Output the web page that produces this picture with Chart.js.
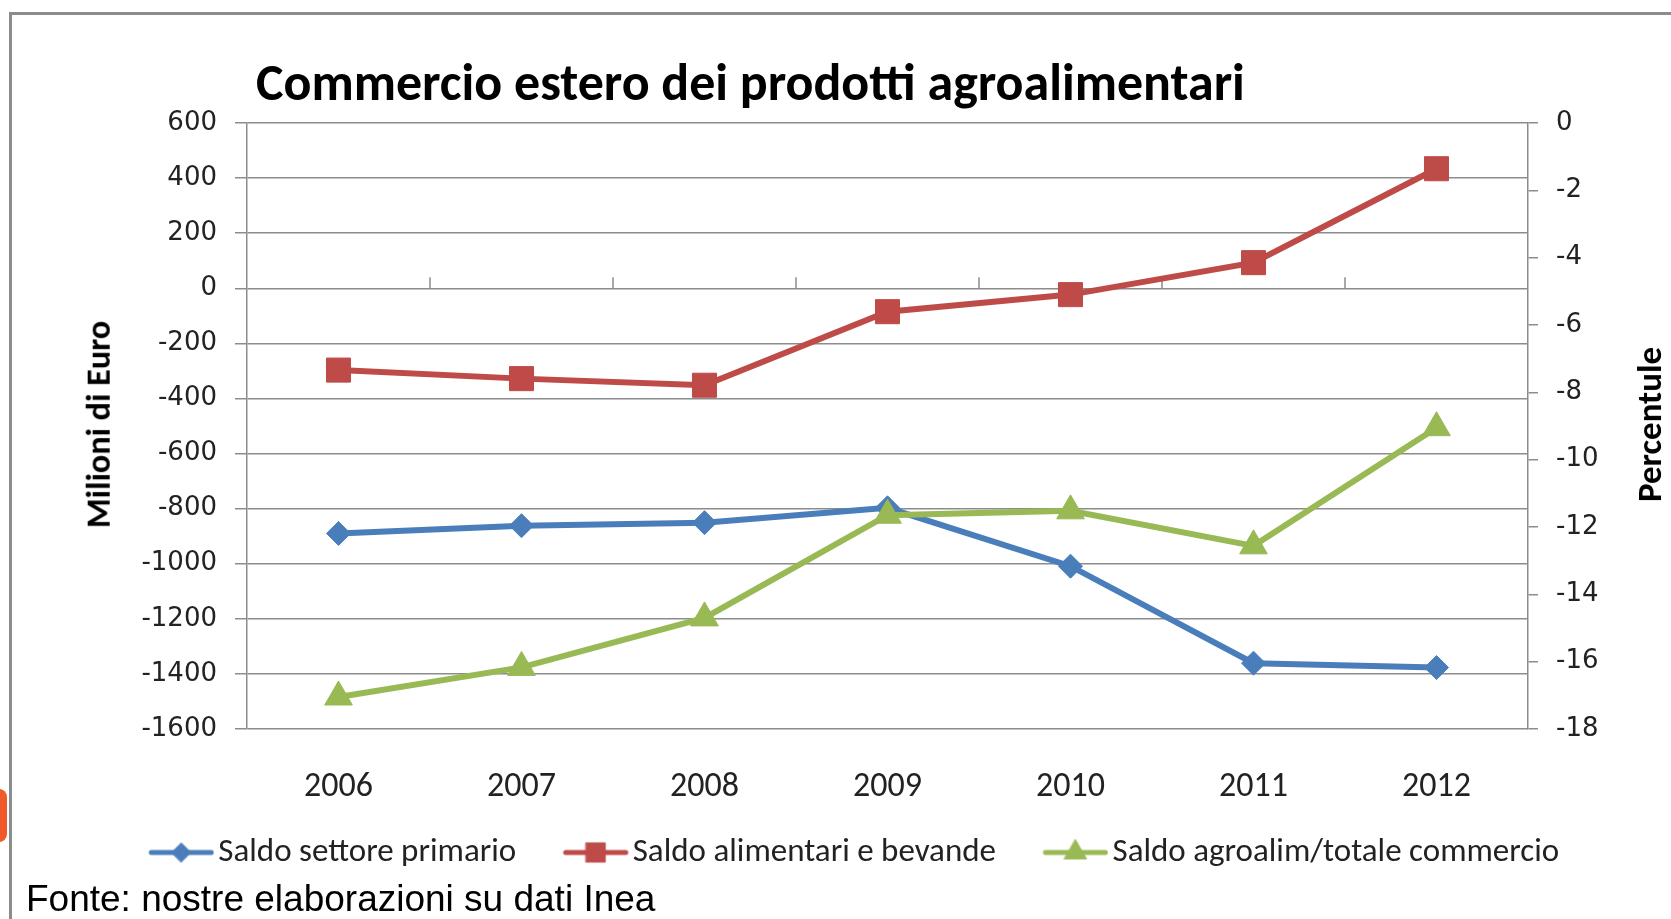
<!DOCTYPE html>
<html>
<head>
<meta charset="utf-8">
<script src="https://cdn.jsdelivr.net/npm/chart.js@4.4.1/dist/chart.umd.min.js"></script>
<style>
  html, body { margin: 0; padding: 0; background: #fff; }
  body { width: 1671px; height: 919px; position: relative; overflow: hidden; }
  #frame { position: absolute; left: 9px; top: 12px; width: 1680px; height: 920px;
           border-top: 3px solid #8c8c8c; border-left: 3px solid #8c8c8c; }
  #tab { position: absolute; left: -10px; top: 789px; width: 17px; height: 53px;
         background: #ef5a28; border-radius: 8px; }
  #chart { position: absolute; left: 0; top: 0; }
  .txt { position: absolute; line-height: 1; white-space: nowrap; color: #000; }
  #title { left: 256px; top: 50px; font: bold 52px Carlito, Lato, sans-serif; transform-origin: 0 0; }
  .axis-title { font: bold 34px Carlito, Lato, sans-serif; transform-origin: 50% 50%; }
  #source { left: 26px; top: 878px; font: 37px 'Liberation Sans', Arial, sans-serif; }
</style>
</head>
<body>
<div id="frame"></div>
<div id="tab"></div>
<canvas id="chart" width="1671" height="919"></canvas>
<div id="title" class="txt">Commercio estero dei prodotti agroalimentari</div>
<div id="ytitle" class="txt axis-title">Milioni di Euro</div>
<div id="y1title" class="txt axis-title">Percentule</div>
<div id="source" class="txt">Fonte: nostre elaborazioni su dati Inea</div>
<script>
const years = ['2006', '2007', '2008', '2009', '2010', '2011', '2012'];
const saldoPrimario = [-890, -862, -851, -797, -1009, -1361, -1377];
const saldoAlimentari = [-297, -328, -352, -85, -23, 93, 434];
const saldoQuota = [-17.05, -16.17, -14.7, -11.65, -11.52, -12.56, -9.05];
const seriesNames = ['Saldo settore primario', 'Saldo alimentari e bevande', 'Saldo agroalim/totale commercio'];
const leftRange = [-1600, 600, 200];
const rightRange = [-18, 0, 2];

const calibri = "Carlito, Lato, sans-serif";
const gridColor = '#8c8c8c';
const colors = ['#4a7ebb', '#be4b48', '#98b954'];
const markers = [['rectRot', 12], ['rect', 17], ['triangle', 16]];

// html titles squeezed to the widths seen in the picture
function fitText(id, len, cx, cy, rotate) {
  const el = document.getElementById(id);
  const k = len / el.offsetWidth;
  if (rotate) {
    el.style.left = (cx - el.offsetWidth / 2) + 'px';
    el.style.top = (cy - el.offsetHeight / 2) + 'px';
    el.style.transform = 'rotate(-90deg) scaleX(' + k + ')';
  } else {
    el.style.transform = 'scaleX(' + k + ')';
  }
}
fitText('title', 989);
fitText('ytitle', 207, 98, 424, true);
fitText('y1title', 155, 1649, 424, true);

// legend icon: short line with the marker, transparent strip on the left
const iconPadLeft = 49;
function makeIcon(color, style, radius) {
  const c = document.createElement('canvas');
  c.width = 66 + iconPadLeft;
  c.height = 34;
  const g = c.getContext('2d');
  g.strokeStyle = color;
  g.lineWidth = 5;
  g.lineCap = 'round';
  g.beginPath();
  g.moveTo(iconPadLeft + 3, 17);
  g.lineTo(iconPadLeft + 63, 17);
  g.stroke();
  g.fillStyle = color;
  g.lineWidth = 1;
  Chart.helpers.drawPoint(g, { pointStyle: style, radius: radius * 0.8, rotation: 0, borderWidth: 1 }, iconPadLeft + 33, 17);
  return c;
}
const icons = markers.map((m, i) => makeIcon(colors[i], m[0], m[1]));

const zeroLineTicks = {
  id: 'zeroLineTicks',
  beforeDatasetsDraw(chart) {
    const { ctx, scales: { x, y } } = chart;
    const y0 = y.getPixelForValue(0);
    ctx.save();
    ctx.strokeStyle = gridColor;
    ctx.lineWidth = 1.5;
    ctx.beginPath();
    for (let i = 0; i < years.length - 1; i++) {
      const px = (x.getPixelForValue(i) + x.getPixelForValue(i + 1)) / 2;
      ctx.moveTo(px, y0);
      ctx.lineTo(px, y0 - 11);
    }
    ctx.stroke();
    ctx.restore();
  }
};

function lineSet(i, data, axis, order) {
  return {
    label: seriesNames[i],
    data: data,
    yAxisID: axis,
    order: order,
    borderColor: colors[i],
    backgroundColor: colors[i],
    borderWidth: 6,
    pointStyle: markers[i][0],
    pointRadius: markers[i][1],
    pointHoverRadius: markers[i][1],
    pointBorderWidth: 1,
    tension: 0
  };
}

const ctx = document.getElementById('chart').getContext('2d');
const chart = new Chart(ctx, {
  type: 'line',
  data: {
    labels: years,
    datasets: [
      lineSet(0, saldoPrimario, 'y', 2),
      lineSet(1, saldoAlimentari, 'y', 1),
      lineSet(2, saldoQuota, 'y1', 0)
    ]
  },
  options: {
    responsive: false,
    animation: false,
    layout: { padding: { top: 123, left: 38, right: 38, bottom: 40 } },
    plugins: {
      tooltip: { enabled: false },
      legend: {
        position: 'bottom',
        labels: {
          usePointStyle: true,
          pointStyleWidth: 90,
          padding: 10,
          color: '#222',
          font: { family: calibri, size: 33 },
          sort: (a, b) => a.datasetIndex - b.datasetIndex,
          generateLabels(chart) {
            const items = Chart.defaults.plugins.legend.labels.generateLabels(chart);
            items.forEach(it => { it.pointStyle = icons[it.datasetIndex]; });
            return items;
          }
        }
      }
    },
    scales: {
      x: {
        offset: true,
        grid: { display: false, drawTicks: false },
        border: { display: false },
        ticks: { color: '#222', padding: 38, font: { family: calibri, size: 34 } },
        afterFit(scale) { scale.height = 97; }
      },
      y: {
        position: 'left',
        min: leftRange[0],
        max: leftRange[1],
        ticks: { stepSize: leftRange[2], color: '#222', padding: 18,
                 font: { family: 'DejaVu Sans', size: 26 }, callback: v => String(v) },
        grid: { color: gridColor, lineWidth: 1.5, tickLength: 12 },
        border: { color: gridColor, width: 1.5 },
        afterFit(scale) { scale.width = 209; }
      },
      y1: {
        position: 'right',
        min: rightRange[0],
        max: rightRange[1],
        ticks: { stepSize: rightRange[2], color: '#222', padding: 18,
                 font: { family: 'DejaVu Sans', size: 26 }, callback: v => String(v) },
        grid: { drawOnChartArea: false, color: gridColor, lineWidth: 1.5, tickLength: 10 },
        border: { color: gridColor, width: 1.5 },
        afterFit(scale) { scale.width = 105; }
      }
    }
  },
  plugins: [zeroLineTicks]
});
</script>
</body>
</html>
